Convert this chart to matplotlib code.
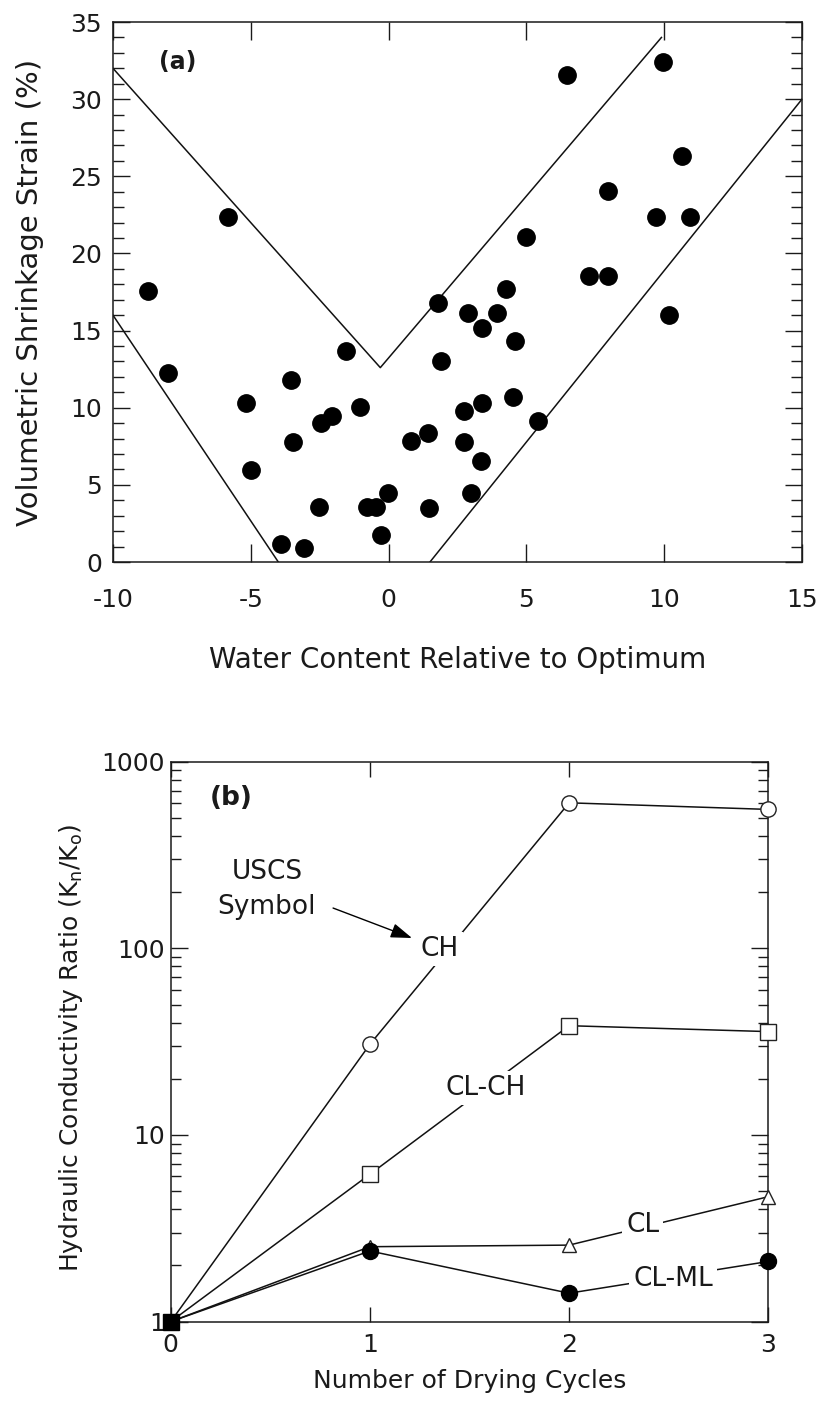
import matplotlib
matplotlib.use('Agg')
import matplotlib.pyplot as plt
from matplotlib.ticker import MultipleLocator, LogLocator, NullFormatter, FixedLocator

# (a) shrinkage strain vs. water content relative to optimum
water_rel = [-8.74, -8.02, -5.84, -5.17, -5.00, -3.90, -3.54, -3.46, -3.06, -2.51,
             -2.45, -2.07, -1.56, -1.04, -0.80, -0.44, -0.28, -0.03, 0.80, 1.44,
             1.47, 1.78, 1.89, 2.75, 2.75, 2.87, 2.99, 3.35, 3.38, 3.40,
             3.95, 4.26, 4.50, 4.59, 5.00, 5.41, 6.46, 7.27, 7.97, 7.97,
             9.70, 9.97, 10.16, 10.63, 10.94]
shrink_strain = [17.56, 12.23, 22.38, 10.28, 5.96, 1.15, 11.80, 7.80, 0.93, 3.54,
                 9.03, 9.46, 13.67, 10.03, 3.56, 3.56, 1.75, 4.45, 7.82, 8.36,
                 3.52, 16.81, 13.05, 9.79, 7.80, 16.12, 4.45, 6.55, 10.28, 15.19,
                 16.16, 17.67, 10.67, 14.32, 21.04, 9.16, 31.56, 18.54, 18.54, 24.04,
                 22.38, 32.43, 16.00, 26.33, 22.38]

# envelope lines
upper_x = [-10, -0.3, 9.9]
upper_y = [32, 12.6, 34]
left_x = [-10, -4.0]
left_y = [16, 0]
right_x = [1.5, 15]
right_y = [0, 30]

# (b) hydraulic conductivity ratio vs. drying cycles
cycles = [0, 1, 2, 3]
ratio_ch = [1, 30.6, 602, 555]
ratio_clch = [1, 6.16, 38.5, 35.8]
ratio_cl = [1, 2.52, 2.57, 4.67]
ratio_clml = [1, 2.39, 1.42, 2.10]

ink = '#1a1a1a'
plt.rcParams['font.family'] = ['DejaVu Sans']
plt.rcParams['axes.unicode_minus'] = False
plt.rcParams['text.color'] = ink
plt.rcParams['axes.labelcolor'] = ink
plt.rcParams['xtick.color'] = ink
plt.rcParams['ytick.color'] = ink
plt.rcParams['axes.edgecolor'] = ink

fig = plt.figure(figsize=(8.24, 14.03), dpi=100)
ax1 = fig.add_axes([0.1371, 0.5994, 0.8362, 0.3849])
ax2 = fig.add_axes([0.2072, 0.0580, 0.7252, 0.3991])

# ---- panel (a)
ax1.plot(water_rel, shrink_strain, 'o', color='black', markersize=12.5, zorder=3)
for xs, ys in [(upper_x, upper_y), (left_x, left_y), (right_x, right_y)]:
    ax1.plot(xs, ys, '-', color='#111111', lw=1.1, zorder=2)

ax1.set_xlim(-10, 15)
ax1.set_ylim(0, 35)
ax1.xaxis.set_major_locator(MultipleLocator(5))
ax1.yaxis.set_major_locator(MultipleLocator(5))
ax1.yaxis.set_minor_locator(MultipleLocator(1))
ax1.tick_params(axis='x', which='major', direction='in', length=13, width=1,
                top=True, labelsize=18, pad=19)
ax1.tick_params(axis='y', which='major', direction='in', length=12, width=1,
                right=True, labelsize=18, pad=8)
ax1.tick_params(axis='y', which='minor', direction='in', length=8, width=1, right=True)
for s in ax1.spines.values():
    s.set_linewidth(1.1)

ax1.set_xlabel('Water Content Relative to Optimum', fontsize=20, va='center')
ax1.xaxis.set_label_coords(0.5, -0.1815)
ax1.set_ylabel('Volumetric Shrinkage Strain (%)', fontsize=21, va='center')
ax1.yaxis.set_label_coords(-0.1205, 0.5)
ax1.text(0.094, 0.926, '(a)', transform=ax1.transAxes, fontsize=17,
         fontweight='bold', ha='center', va='center')

# ---- panel (b)
lw = 1.1
ax2.plot(cycles, ratio_ch, '-', color='#111111', lw=lw, zorder=2)
ax2.plot(cycles, ratio_clch, '-', color='#111111', lw=lw, zorder=2)
ax2.plot(cycles, ratio_cl, '-', color='#111111', lw=lw, zorder=2)
ax2.plot(cycles, ratio_clml, '-', color='#111111', lw=lw, zorder=2)

ax2.plot(cycles[1:], ratio_ch[1:], 'o', mfc='white', mec='#222222', mew=1.0,
         markersize=11, zorder=4, clip_on=False)
ax2.plot(cycles[1:], ratio_clch[1:], 's', mfc='white', mec='#222222', mew=1.0,
         markersize=11, zorder=4, clip_on=False)
ax2.plot(cycles[1:], ratio_cl[1:], '^', mfc='white', mec='#222222', mew=1.0,
         markersize=10, zorder=4, clip_on=False)
ax2.plot(cycles[1:], ratio_clml[1:], 'o', color='black', markersize=11.5,
         zorder=5, clip_on=False)
ax2.plot([cycles[0]], [ratio_ch[0]], 's', color='black', markersize=12,
         zorder=6, clip_on=False)

ax2.set_xlim(0, 3)
ax2.set_yscale('log')
ax2.set_ylim(1, 1000)
ax2.xaxis.set_major_locator(FixedLocator(cycles))
ax2.yaxis.set_minor_locator(LogLocator(base=10, subs=range(2, 10), numticks=10))
ax2.yaxis.set_minor_formatter(NullFormatter())
ax2.set_yticks([1, 10, 100, 1000])
ax2.set_yticklabels(['1', '10', '100', '1000'])
ax2.tick_params(axis='x', which='major', direction='in', length=11, width=1,
                top=True, labelsize=18, pad=8)
ax2.tick_params(axis='y', which='major', direction='in', length=12, width=1,
                right=True, labelsize=18, pad=4)
ax2.tick_params(axis='y', which='minor', direction='in', length=7.5, width=1, right=True)
for s in ax2.spines.values():
    s.set_linewidth(1.1)

ax2.set_xlabel('Number of Drying Cycles', fontsize=18, va='center')
ax2.xaxis.set_label_coords(0.5, -0.106)
ax2.set_ylabel('Hydraulic Conductivity Ratio (K$_\\mathregular{n}$/K$_\\mathregular{o}$)',
               fontsize=18, va='center')
ax2.yaxis.set_label_coords(-0.1668, 0.4896)
ax2.text(0.101, 0.935, '(b)', transform=ax2.transAxes, fontsize=19,
         fontweight='bold', ha='center', va='center')

# soil type labels sitting on their curves
box = dict(boxstyle='square,pad=0.15', fc='white', ec='none')
ax2.text(1.352, 99.1, 'CH', fontsize=19, ha='center', va='center', bbox=box, zorder=3)
ax2.text(1.583, 17.86, 'CL-CH', fontsize=19, ha='center', va='center', bbox=box, zorder=3)
ax2.text(2.370, 3.28, 'CL', fontsize=19, ha='center', va='center', bbox=box, zorder=3)
ax2.text(2.522, 1.70, 'CL-ML', fontsize=19, ha='center', va='center', bbox=box, zorder=3)

ax2.text(0.483, 10 ** 2.41, 'USCS', fontsize=19, ha='center', va='center')
ax2.text(0.483, 10 ** 2.22, 'Symbol', fontsize=19, ha='center', va='center')
ax2.annotate('', xy=(1.211, 113.6), xytext=(0.815, 164.4),
             arrowprops=dict(arrowstyle='-|>,head_length=1.3,head_width=0.45',
                             color='black', lw=1.0, shrinkA=0, shrinkB=0))

fig.savefig('out.png', dpi=100)
